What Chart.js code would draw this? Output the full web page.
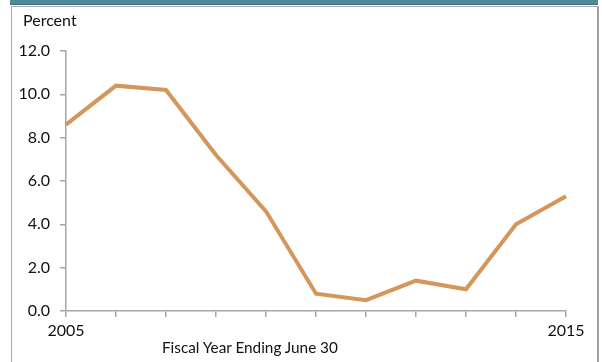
<!DOCTYPE html>
<html lang="en">
<head>
    <meta charset="UTF-8">
    <title>Percent, Fiscal Year Ending June 30</title>
    <script src="https://cdn.jsdelivr.net/npm/chart.js"></script>
    <style>
        body {
            margin: 0;
            background-color: white;
            font-family: Lato, Arial, sans-serif;
        }
        .frame {
            position: absolute;
            left: 10px;
            top: 0;
            width: 588px;
            height: 362px;
        }
        .topbar {
            position: absolute;
            left: 0;
            top: 0;
            width: 588px;
            height: 4px;
            background-color: #4f8a98;
            border-bottom: 1px solid #3c6f7c;
        }
        .box {
            position: absolute;
            left: 1px;
            top: 6px;
            width: 585px;
            height: 360px;
            border: 1px solid #a8a8a8;
            border-right: 2px solid #a0a0a0;
        }
        .chart-wrap {
            position: absolute;
            left: 0;
            top: 0;
            width: 602px;
            height: 362px;
        }
        .label {
            position: absolute;
            color: #111;
            white-space: nowrap;
        }
    </style>
</head>
<body>
    <div class="frame">
        <div class="topbar"></div>
        <div class="box"></div>
    </div>
    <div class="chart-wrap">
        <canvas id="rateChart" width="602" height="362"></canvas>
    </div>
    <div class="label" style="left:23px; top:10px; font-size:16px;">Percent</div>
    <div class="label" style="left:162px; top:338px; font-size:15.3px;">Fiscal Year Ending June 30</div>

    <script>
        const years = ['2005', '2006', '2007', '2008', '2009', '2010', '2011', '2012', '2013', '2014', '2015'];
        const shownYears = ['2005', '2015'];
        const percentValues = [8.6, 10.4, 10.2, 7.2, 4.6, 0.8, 0.5, 1.4, 1.0, 4.0, 5.3];
        const yTicks = [0, 2, 4, 6, 8, 10, 12];

        const axisColor = '#a6a6a6';
        const tickFont = { family: 'Lato, Arial, sans-serif', size: 16 };

        new Chart(document.getElementById('rateChart'), {
            type: 'line',
            data: {
                labels: years,
                datasets: [{
                    data: percentValues,
                    borderColor: 'rgb(212, 150, 90)',
                    borderWidth: 4,
                    pointRadius: 0,
                    tension: 0,
                    fill: false
                }]
            },
            options: {
                responsive: false,
                animation: false,
                events: [],
                layout: { padding: { top: 51, right: 36, bottom: 0, left: 0 } },
                plugins: {
                    legend: { display: false },
                    tooltip: { enabled: false }
                },
                scales: {
                    x: {
                        type: 'category',
                        offset: false,
                        afterFit: scale => { scale.height = 51; },
                        border: { color: axisColor, width: 1.5 },
                        grid: {
                            drawOnChartArea: false,
                            drawTicks: true,
                            tickLength: 6,
                            color: axisColor,
                            lineWidth: 1.5
                        },
                        ticks: {
                            autoSkip: false,
                            maxRotation: 0,
                            padding: 4,
                            color: '#111',
                            font: tickFont,
                            callback: function (value) {
                                const y = this.getLabelForValue(value);
                                return shownYears.includes(y) ? y : '';
                            }
                        }
                    },
                    y: {
                        min: 0,
                        max: 12,
                        afterFit: scale => { scale.width = 66; },
                        afterBuildTicks: scale => { scale.ticks = yTicks.map(v => ({ value: v })); },
                        border: { color: axisColor, width: 1.5 },
                        grid: {
                            drawOnChartArea: false,
                            drawTicks: true,
                            tickLength: 6,
                            color: axisColor,
                            lineWidth: 1.5
                        },
                        ticks: {
                            padding: 10,
                            color: '#111',
                            font: tickFont,
                            callback: v => v.toFixed(1)
                        }
                    }
                }
            }
        });
    </script>
</body>
</html>
